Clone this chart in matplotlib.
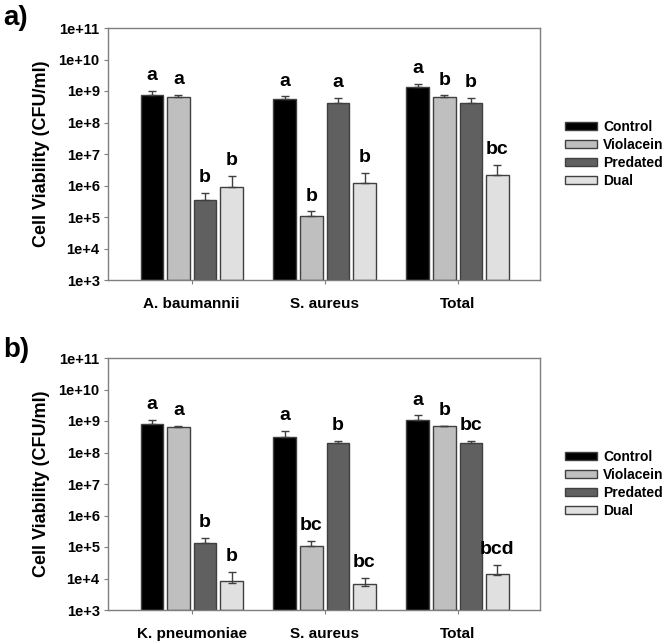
import numpy as np
import matplotlib
matplotlib.use("Agg")
import matplotlib.pyplot as plt
from matplotlib.patches import Patch

plt.rcParams['font.family'] = ['Liberation Sans', 'DejaVu Sans']
plt.rcParams['font.weight'] = 'bold'

treatments = ['Control', 'Violacein', 'Predated', 'Dual']
colors = ['#000000', '#bfbfbf', '#606060', '#e0e0e0']

# panel a
groups_a = ['A. baumannii', 'S. aureus', 'Total']
means_a = {
    'Control':   [7.6e8, 5.5e8, 1.3e9],
    'Violacein': [6.3e8, 1.07e5, 6.3e8],
    'Predated':  [3.4e5, 4.1e8, 4.1e8],
    'Dual':      [8.7e5, 1.2e6, 2.15e6],
}
tops_a = {
    'Control':   [9.8e8, 6.7e8, 1.65e9],
    'Violacein': [7.4e8, 1.5e5, 7.2e8],
    'Predated':  [5.6e5, 6.2e8, 6.2e8],
    'Dual':      [2.0e6, 2.5e6, 4.6e6],
}
letters_a = {
    'Control':   ['a', 'a', 'a'],
    'Violacein': ['a', 'b', 'b'],
    'Predated':  ['b', 'a', 'b'],
    'Dual':      ['b', 'b', 'bc'],
}

# panel b
groups_b = ['K. pneumoniae', 'S. aureus', 'Total']
means_b = {
    'Control':   [8.3e8, 3.2e8, 1.1e9],
    'Violacein': [6.6e8, 1.1e5, 6.8e8],
    'Predated':  [1.3e5, 2.05e8, 2.05e8],
    'Dual':      [7.2e3, 5.8e3, 1.26e4],
}
tops_b = {
    'Control':   [1.05e9, 4.7e8, 1.5e9],
    'Violacein': [6.9e8, 1.6e5, 7.0e8],
    'Predated':  [1.9e5, 2.3e8, 2.3e8],
    'Dual':      [1.6e4, 1.04e4, 2.6e4],
}
letters_b = {
    'Control':   ['a', 'a', 'a'],
    'Violacein': ['a', 'bc', 'b'],
    'Predated':  ['b', 'b', 'bc'],
    'Dual':      ['b', 'bc', 'bcd'],
}

ytick_vals = [1e3, 1e4, 1e5, 1e6, 1e7, 1e8, 1e9, 1e10, 1e11]
ytick_labels = ['1e+3', '1e+4', '1e+5', '1e+6', '1e+7', '1e+8', '1e+9', '1e+10', '1e+11']

W, H = 666, 642
fig = plt.figure(figsize=(W / 100, H / 100), dpi=100)

frame_col = '#7f7f7f'


def draw_panel(ax, groups, means, tops, letters):
    x = np.arange(len(groups))
    width = 0.17
    step = 0.2
    for i, t in enumerate(treatments):
        xs = x + (i - 1.5) * step
        m = np.array(means[t])
        err = np.array(tops[t]) - m
        ax.bar(xs, m, width, bottom=1e3, color=colors[i], edgecolor='#404040',
               linewidth=1.0, zorder=2)
        ax.errorbar(xs, m, yerr=[np.zeros_like(m), err], fmt='none',
                    ecolor='#404040', elinewidth=1.0, capsize=3, capthick=1.0, zorder=3)
        for xi, top, lab in zip(xs, tops[t], letters[t]):
            ax.annotate(lab, (xi, top), xytext=(0, 5), textcoords='offset points',
                        ha='center', va='bottom', fontsize=14, fontweight='bold')
    ax.set_yscale('log')
    ax.set_ylim(1e3, 1e11)
    ax.set_xlim(-0.63, 2.62)
    ax.set_yticks(ytick_vals)
    ax.set_yticklabels(ytick_labels)
    ax.minorticks_off()
    ax.set_xticks(x)
    ax.set_xticklabels(groups)
    ax.tick_params(axis='y', direction='out', length=3, width=0.8, color=frame_col,
                   labelsize=10.5, pad=3)
    ax.tick_params(axis='x', direction='out', length=3, width=0.8, color=frame_col,
                   labelsize=11, pad=9)
    for s in ax.spines.values():
        s.set_color(frame_col)
        s.set_linewidth(1.0)
    ax.set_ylabel('Cell Viability (CFU/ml)', fontsize=13, fontweight='bold', labelpad=6)
    handles = [Patch(facecolor=c, edgecolor='#404040', label=t) for c, t in zip(colors, treatments)]
    ax.legend(handles=handles, loc='center left', bbox_to_anchor=(1.058, 0.5),
              frameon=False, fontsize=10, handlelength=2.3, handleheight=0.5,
              handletextpad=0.45, labelspacing=0.3, borderaxespad=0, borderpad=0)


ax_a = fig.add_axes([108 / W, 1 - 280 / H, 432 / W, 252 / H])
draw_panel(ax_a, groups_a, means_a, tops_a, letters_a)
ax_b = fig.add_axes([108 / W, 1 - 610 / H, 432 / W, 252 / H])
draw_panel(ax_b, groups_b, means_b, tops_b, letters_b)

fig.text(3 / W, 1 - 18 / H, 'a)', fontsize=20, fontweight='bold', va='center', ha='left')
fig.text(3 / W, 1 - 350 / H, 'b)', fontsize=20, fontweight='bold', va='center', ha='left')

fig.savefig('out.png', dpi=100)
